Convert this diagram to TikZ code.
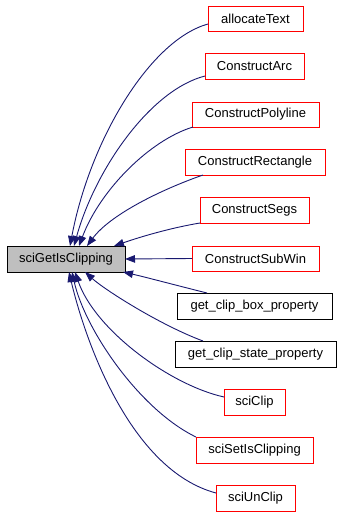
\documentclass[tikz,border=0pt]{standalone}
\usepackage{fontspec}
\setmainfont{Liberation Sans}
\usetikzlibrary{arrows.meta}
\definecolor{edgeblue}{HTML}{191970}
\definecolor{maingray}{HTML}{BFBFBF}
\tikzset{
  box/.style={draw, line width=1pt, inner sep=0pt, outer sep=0pt, font=\fontsize{13}{15}\selectfont},
  redbox/.style={box, draw=red},
  blackbox/.style={box, draw=black},
  mainbox/.style={box, draw=black, fill=maingray},
  edge/.style={draw=edgeblue, line width=0.9pt, -{Triangle[length=10pt,width=7.5pt,fill=edgeblue]}}
}
\begin{document}
\begin{tikzpicture}[x=1pt,y=-1pt]
\useasboundingbox (0,0) rectangle (341,514);
\node[mainbox, minimum width=118pt, minimum height=26pt] (m) at (66,259) {sciGetIsClipping};
\node[redbox, minimum width=95pt, minimum height=25pt] (a1) at (255.5,18.5) {allocateText};
\node[redbox, minimum width=99pt, minimum height=26pt] (a2) at (254.5,66) {ConstructArc};
\node[redbox, minimum width=127pt, minimum height=25pt] (a3) at (255.5,114.5) {ConstructPolyline};
\node[redbox, minimum width=140pt, minimum height=26pt] (a4) at (255,162) {ConstructRectangle};
\node[redbox, minimum width=109pt, minimum height=26pt] (a5) at (254.5,210) {ConstructSegs};
\node[redbox, minimum width=127pt, minimum height=25pt] (a6) at (255.5,258.5) {ConstructSubWin};
\node[blackbox, minimum width=155pt, minimum height=26pt] (a7) at (254.5,306) {get\_clip\_box\_property};
\node[blackbox, minimum width=161pt, minimum height=26pt] (a8) at (255.5,354) {get\_clip\_state\_property};
\node[redbox, minimum width=61pt, minimum height=26pt] (a9) at (254.5,402) {sciClip};
\node[redbox, minimum width=117pt, minimum height=26pt] (a10) at (254.5,450) {sciSetIsClipping};
\node[redbox, minimum width=79pt, minimum height=26pt] (a11) at (255.5,498) {sciUnClip};

\draw[edge] ([yshift=-5.5pt]a1.west) .. controls (150,40) and (90,140) .. ([xshift=4pt]m.north);
\draw[edge] ([yshift=3pt]a2.south west) .. controls (150,90) and (95,170) .. ([xshift=8pt]m.north);
\draw[edge] ([xshift=1pt]a3.south west) .. controls (150,140) and (100,190) .. ([xshift=13pt]m.north);
\draw[edge] ([xshift=18pt]a4.south west) .. controls (160,190) and (110,215) .. ([xshift=21pt]m.north);
\draw[edge] (a5.south west) .. controls (170,228) and (140,237) .. ([xshift=-11pt]m.north east);
\draw[edge] (a6.west) -- (m.east);
\draw[edge] ([xshift=30pt]a7.north west) .. controls (175,285) and (145,277) .. ([xshift=-2pt]m.south east);
\draw[edge] ([xshift=28pt]a8.north west) .. controls (160,325) and (105,290) .. ([xshift=19pt]m.south);
\draw[edge] ([yshift=5pt]a9.west) .. controls (170,385) and (95,330) .. ([xshift=9pt]m.south);
\draw[edge] (a10.north west) .. controls (140,410) and (85,330) .. ([xshift=6pt]m.south);
\draw[edge] ([yshift=5pt]a11.west) .. controls (130,470) and (85,340) .. ([xshift=3pt]m.south);
\end{tikzpicture}
\end{document}
